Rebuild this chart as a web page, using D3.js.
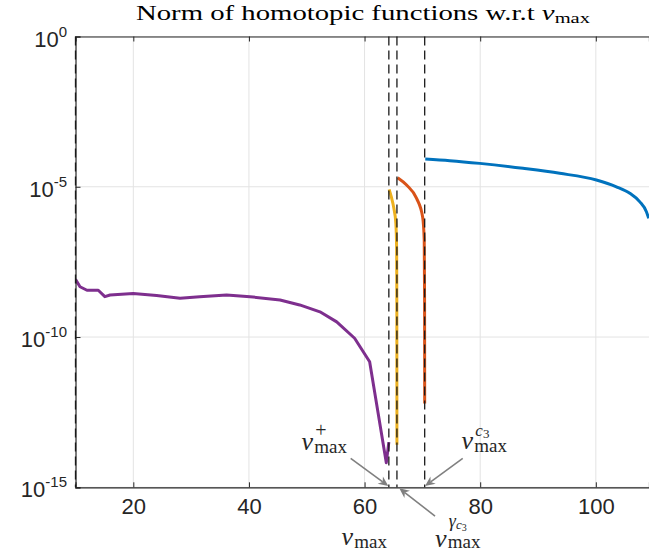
<!DOCTYPE html>
<html><head><meta charset="utf-8">
<script src="https://cdn.jsdelivr.net/npm/d3@7"></script>
<style>body{margin:0;background:#fff}svg{display:block}</style>
</head><body>
<svg id="c" width="649" height="557"></svg>
<script>
// ---------- data ----------
const xTicks = [20, 40, 60, 80, 100];
const yTickExps = [0, -5, -10, -15];
const vLines = [10, 64.2, 65.6, 70.4];

const purpleX = [10, 10.78, 11.98, 13.94, 15.08, 15.98, 19.98, 24.03, 28.08, 31.48, 36.13, 40.18, 45.38, 48.78, 52.28, 55.18, 58.28, 60.88, 63.76, 64.2];
const purpleY = [8.3e-9, 4.7e-9, 3.6e-9, 3.6e-9, 2.2e-9, 2.5e-9, 2.8e-9, 2.4e-9, 1.95e-9, 2.2e-9, 2.5e-9, 2.2e-9, 1.7e-9, 1.17e-9, 6.9e-10, 3.2e-10, 9.1e-11, 1.5e-11, 6.6e-15, 3.2e-14];

const yellowX = [64.25, 64.63, 65.06, 65.41, 65.55, 65.58, 65.6];
const yellowY = [8.2e-6, 4.6e-6, 1.95e-6, 6.2e-7, 7.9e-8, 1.7e-9, 2.6e-14];

const orangeX = [65.72, 67.27, 69.0, 70.04, 70.32, 70.38, 70.4];
const orangeY = [2.0e-5, 1.14e-5, 4.1e-6, 1.0e-6, 1.69e-7, 1.7e-9, 6.2e-13];

const blueX = [70.5, 74.74, 79.93, 87.41, 93.76, 100.1, 103.56, 105.88, 107.58, 108.75, 109.15];
const blueY = [8.4e-5, 7.4e-5, 6.0e-5, 4.1e-5, 2.8e-5, 1.68e-5, 1.0e-5, 6.05e-6, 3.2e-6, 1.48e-6, 8.9e-7];

// arrows: [x, y] in data units
const arrowTails = [[57.6, 9.2e-15], [76.98, 9.2e-15], [72.19, 1.1e-16]];
const arrowHeads = [[64.11, 1.1e-15], [70.46, 1.1e-15], [66.01, 9.3e-16]];

// ---------- drawing ----------
const svg = d3.select('#c');
const L = 75.5, R = 649, T = 36.5, B = 487.3;
const x = d3.scaleLinear().domain([10, 109.2]).range([L, R]);
const y = d3.scaleLog().domain([1e-15, 1]).range([B, T]);

const AX = '#262626';
const SANS = '"Liberation Sans", Arial, Helvetica, sans-serif';
const SERIF = '"Liberation Serif", "Times New Roman", serif';

svg.append('clipPath').attr('id', 'clip').append('rect')
  .attr('x', L).attr('y', T).attr('width', R - L).attr('height', B - T);

// grid
const grid = svg.append('g').attr('stroke', '#e3e3e3').attr('stroke-width', 1);
grid.selectAll('.gx').data(xTicks).join('line')
  .attr('x1', d => x(d)).attr('x2', d => x(d)).attr('y1', T).attr('y2', B);
grid.selectAll('.gy').data(yTickExps.map(e => Math.pow(10, e))).join('line')
  .attr('x1', L).attr('x2', R).attr('y1', d => y(d)).attr('y2', d => y(d));

// curves
const plot = svg.append('g').attr('clip-path', 'url(#clip)');
function series(xs, ys, color, curve) {
  const pts = xs.map((v, i) => [v, ys[i]]);
  const line = d3.line().x(d => x(d[0])).y(d => y(d[1])).curve(curve);
  plot.append('path').attr('d', line(pts)).attr('fill', 'none')
    .attr('stroke', color).attr('stroke-width', 3).attr('stroke-linejoin', 'round');
}
series(purpleX, purpleY, '#7E2F8E', d3.curveLinear);
series(yellowX, yellowY, '#EDB120', d3.curveMonotoneX);
series(orangeX, orangeY, '#D95319', d3.curveMonotoneX);
series(blueX, blueY, '#0072BD', d3.curveMonotoneX);

// axes
const gB = svg.append('g').attr('transform', `translate(0,${B})`)
  .call(d3.axisBottom(x).tickValues(xTicks).tickSize(-5).tickPadding(11.5).tickFormat(d3.format('d')));
const gT = svg.append('g').attr('transform', `translate(0,${T})`)
  .call(d3.axisTop(x).tickValues(xTicks).tickSize(-5).tickFormat(''));
const gL = svg.append('g').attr('transform', `translate(${L},0)`)
  .call(d3.axisLeft(y).tickValues(yTickExps.map(e => Math.pow(10, e))).tickSize(-5).tickFormat(''));
[gB, gT, gL].forEach(g => {
  g.select('.domain').attr('stroke', AX).attr('stroke-width', 1.2);
  g.selectAll('.tick line').attr('stroke', AX).attr('stroke-width', 1);
  g.selectAll('.tick text').attr('fill', AX).style('font-family', SANS).style('font-size', '22px');
});

// y tick labels 10^e
const yl = svg.append('g').attr('fill', AX).style('font-family', SANS);
yTickExps.forEach(e => {
  const ty = y(Math.pow(10, e));
  const t = yl.append('text').attr('x', 67).attr('y', ty + 10).attr('text-anchor', 'end');
  t.append('tspan').style('font-size', '22px').text('10');
  t.append('tspan').style('font-size', '15px').attr('dy', -10).text(e === 0 ? '0' : '-' + Math.abs(e));
});

// dashed vertical lines
svg.append('g').selectAll('line').data(vLines).join('line')
  .attr('x1', d => x(d)).attr('x2', d => x(d)).attr('y1', T).attr('y2', B)
  .attr('stroke', '#1a1a1a').attr('stroke-width', 1.3).attr('stroke-dasharray', '9,5');

// arrows
const ag = svg.append('g');
arrowTails.forEach((tl, i) => {
  const hd = arrowHeads[i];
  const x0 = x(tl[0]), y0 = y(tl[1]), x1 = x(hd[0]), y1 = y(hd[1]);
  const ang = Math.atan2(y1 - y0, x1 - x0);
  const len = 10, hw = 4.5, notch = 3;
  const c = Math.cos(ang), s = Math.sin(ang);
  const bx = x1 - len * c, by = y1 - len * s;
  ag.append('line').attr('x1', x0).attr('y1', y0)
    .attr('x2', x1 - (len - notch) * c).attr('y2', y1 - (len - notch) * s)
    .attr('stroke', '#808080').attr('stroke-width', 1.6);
  const p = [[x1, y1], [bx - hw * s, by + hw * c], [x1 - (len - notch) * c, y1 - (len - notch) * s], [bx + hw * s, by - hw * c]];
  ag.append('path').attr('d', 'M' + p.map(q => q.join(',')).join('L') + 'Z').attr('fill', '#808080');
});

// math labels
function vmax(g, x0, base, size, subDy, supParts) {
  const fill = AX;
  const v = g.append('text').attr('x', x0).attr('y', base).attr('fill', fill)
    .style('font-family', SERIF).style('font-style', 'italic').style('font-size', size + 'px').text('v');
  const w = v.node().getComputedTextLength();
  const sx = x0 + w + size * 0.05;
  g.append('text').attr('x', sx).attr('y', base + subDy).attr('fill', fill)
    .style('font-family', SERIF).style('font-size', Math.round(size * 0.73) + 'px').text('max');
  if (supParts) {
    const st = g.append('text').attr('x', sx + 1).attr('y', supParts.base).attr('fill', fill).style('font-family', SERIF);
    supParts.parts.forEach(p => {
      st.append('tspan').style('font-size', p.size + 'px').style('font-style', p.italic ? 'italic' : 'normal')
        .attr('dy', p.dy || 0).text(p.t);
    });
  }
}
const lg = svg.append('g');
vmax(lg, 301.5, 450, 26, 3, { base: 437, parts: [{ t: '+', size: 20 }] });
vmax(lg, 461.5, 449, 26, 3, { base: 435.5, parts: [{ t: 'c', size: 17, italic: true }, { t: '3', size: 13, dy: 2 }] });
vmax(lg, 435, 546.5, 26, 1, { base: 527, parts: [{ t: 'γ', size: 18, italic: true }, { t: 'c', size: 13, italic: true, dy: 2 }, { t: '3', size: 10, dy: 2 }] });
vmax(lg, 341.5, 545, 26, 3, null);

// title
const tt = svg.append('g');
const title = tt.append('text').attr('x', 136).attr('y', 20).attr('fill', '#000').style('font-family', SERIF).style('font-size', '21px');
title.append('tspan').text('Norm of homotopic functions w.r.t ');
title.append('tspan').style('font-style', 'italic').text('v');
title.append('tspan').style('font-size', '15px').attr('dy', 3).text('max');
// fit title width to the axes-centred span
const bw = title.node().getBBox().width;
const target = 455;
title.attr('transform', `translate(136,0) scale(${target / bw},1) translate(-136,0)`);
</script>
</body></html>
